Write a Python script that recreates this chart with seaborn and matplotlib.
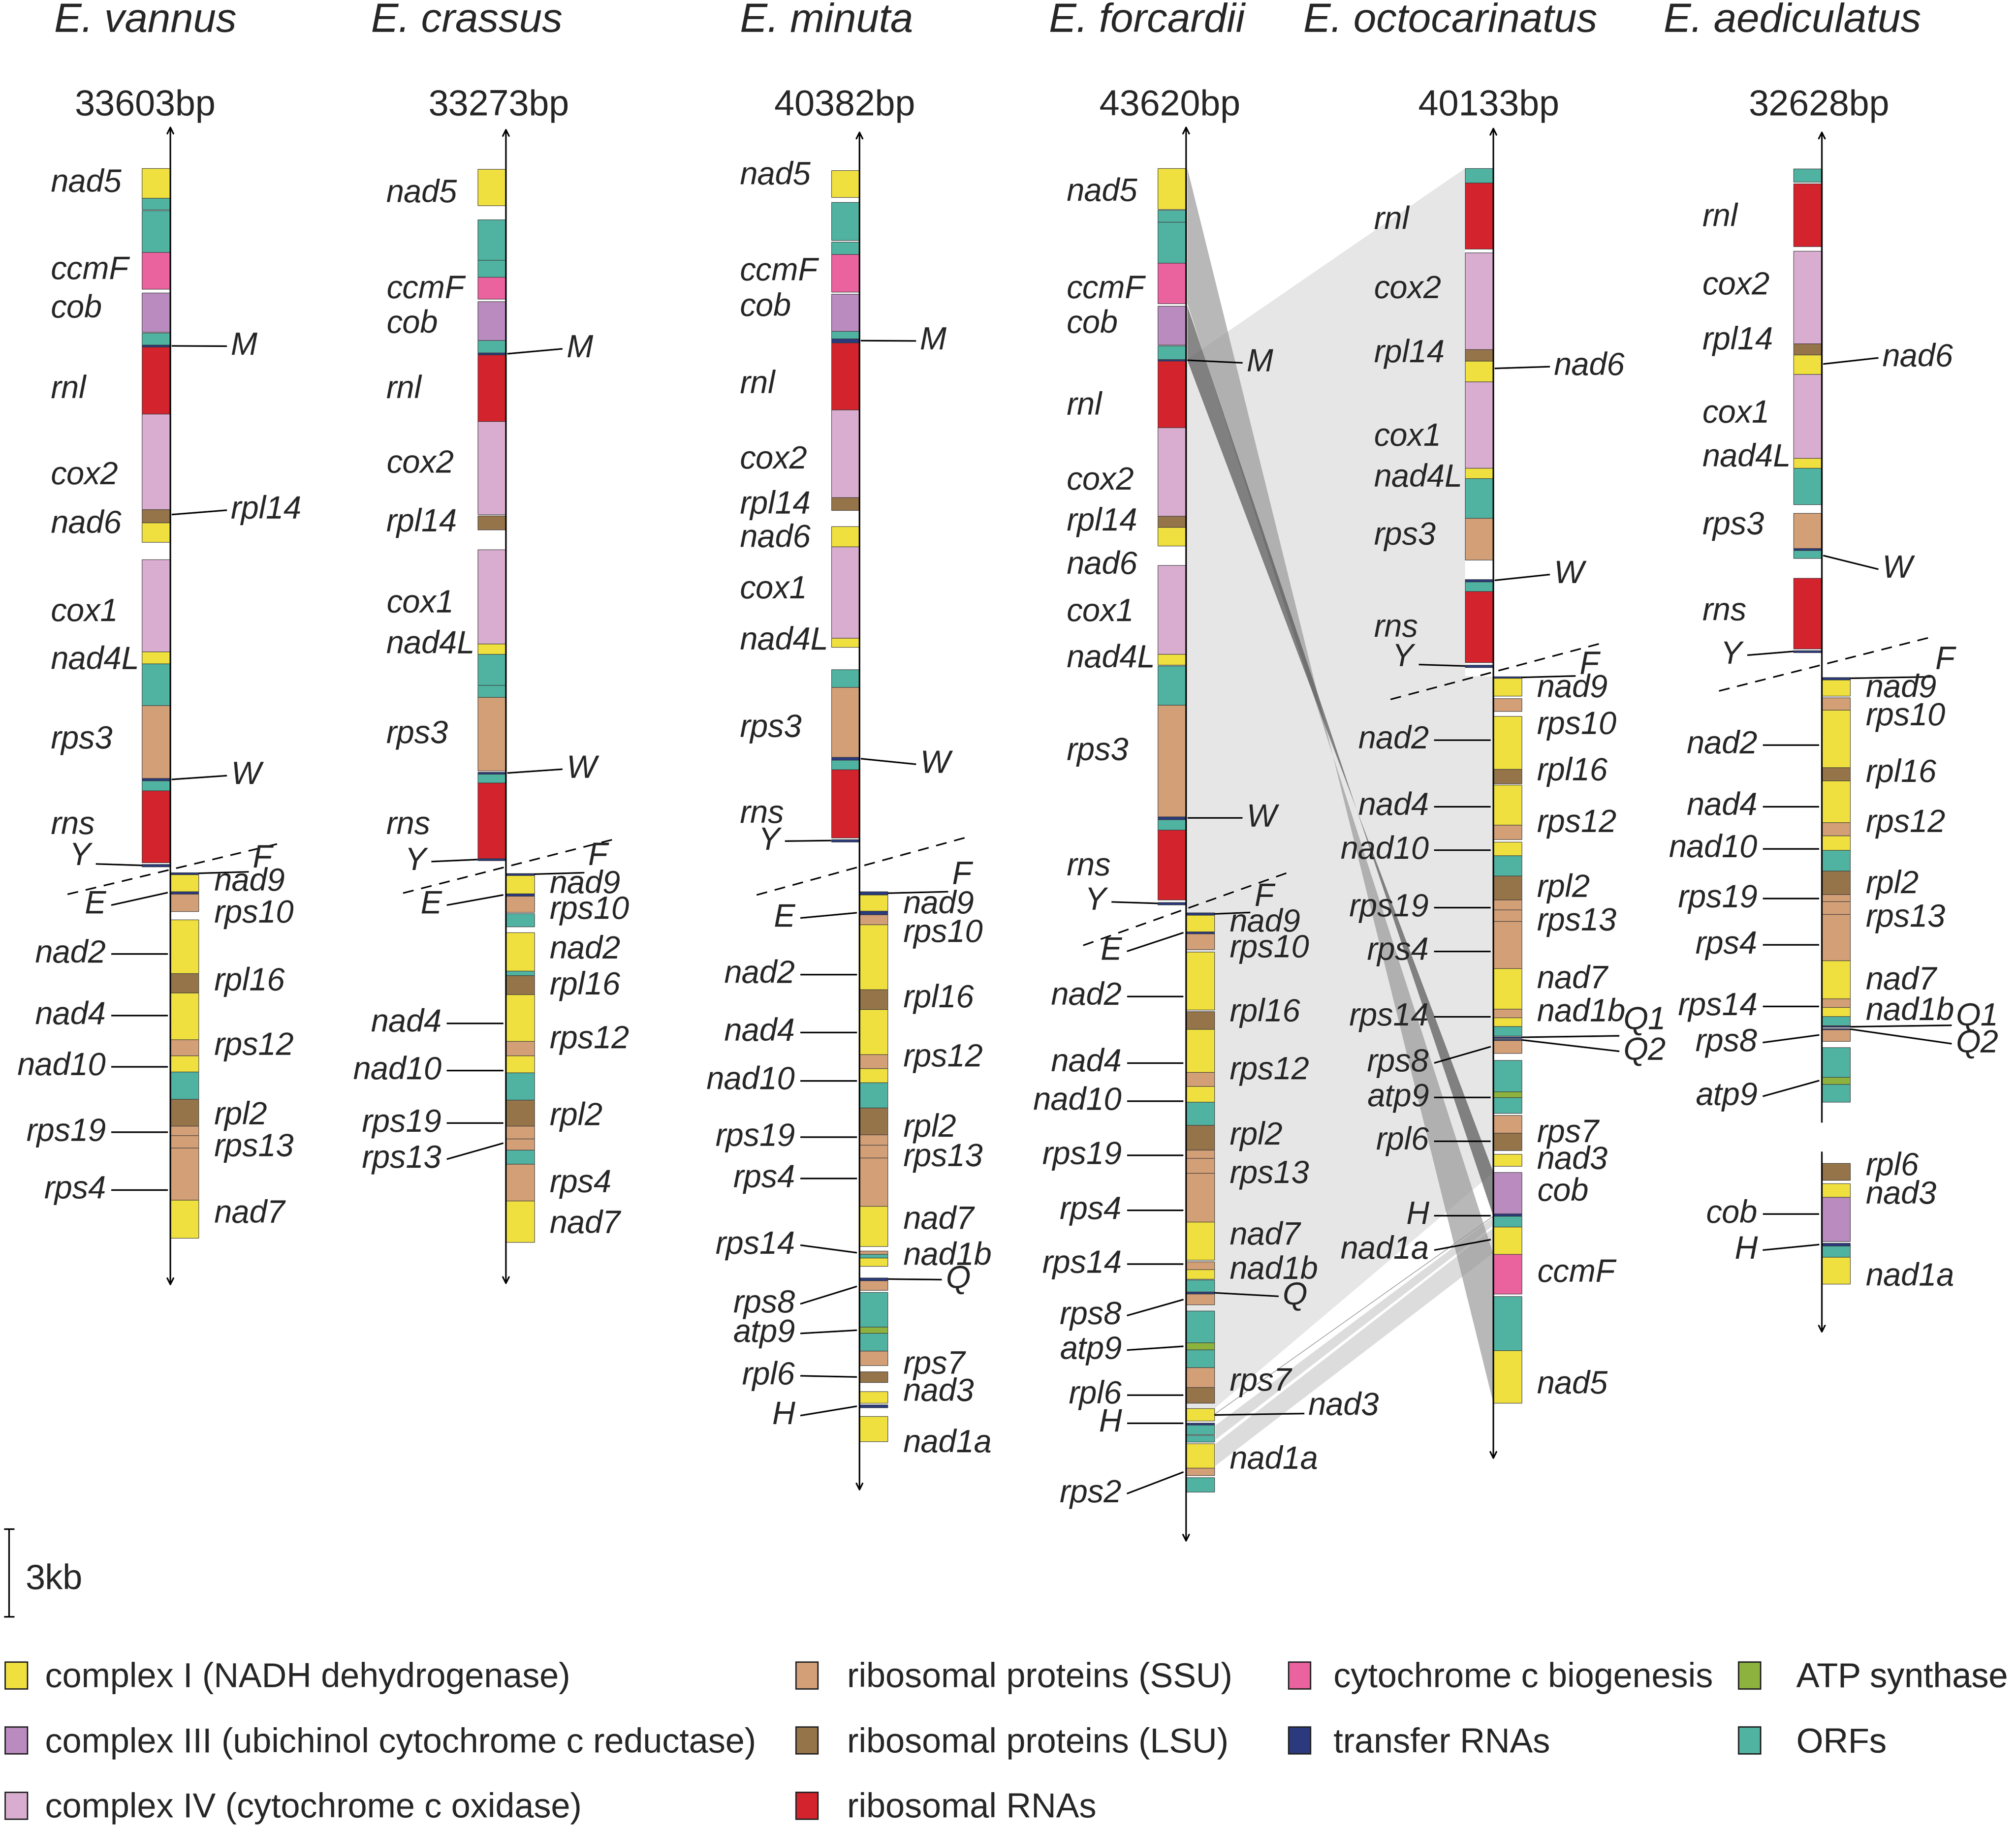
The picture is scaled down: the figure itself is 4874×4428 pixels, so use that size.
import pandas as pd
import seaborn as sns
import matplotlib.pyplot as plt
from matplotlib.patches import Patch

# species and genome sizes
SPECIES = ["E. vannus", "E. crassus", "E. minuta", "E. forcardii", "E. octocarinatus", "E. aediculatus"]
GENOME_SIZES = ["33603bp", "33273bp", "40382bp", "43620bp", "40133bp", "32628bp"]

# functional categories
CATEGORIES = ["I", "III", "IV", "SSU", "LSU", "rRNA", "CCM", "tRNA", "ATP", "ORF"]
CATEGORY_NAMES = [
    "complex I (NADH dehydrogenase)",
    "complex III (ubichinol cytochrome c reductase)",
    "complex IV (cytochrome c oxidase)",
    "ribosomal proteins (SSU)",
    "ribosomal proteins (LSU)",
    "ribosomal RNAs",
    "cytochrome c biogenesis",
    "transfer RNAs",
    "ATP synthase",
    "ORFs",
]
CATEGORY_HEX = ["#EFE03F", "#B98BBE", "#D8ADCF", "#D29F77", "#96744A",
                "#D3232D", "#EA629E", "#2B3A7C", "#8DB33E", "#50B3A2"]
LEGEND_COLUMNS = [["I", "III", "IV"], ["SSU", "LSU", "rRNA"], ["CCM", "tRNA"], ["ATP", "ORF"]]

# gene blocks: (gene, start kb, end kb, category) in map position
VANNUS_UPPER = [
    ("nad5", 0.05, 1.07, "I"), ("orf", 1.07, 1.47, "ORF"), ("orf", 1.50, 2.92, "ORF"),
    ("ccmF", 2.92, 4.18, "CCM"), ("cob", 4.31, 5.66, "III"), ("orf", 5.68, 6.09, "ORF"),
    ("M", 6.09, 6.17, "tRNA"), ("rnl", 6.17, 8.46, "rRNA"), ("cox2", 8.46, 11.72, "IV"),
    ("rpl14", 11.72, 12.17, "LSU"), ("nad6", 12.17, 12.84, "I"), ("cox1", 13.43, 16.59, "IV"),
    ("nad4L", 16.59, 17.00, "I"), ("orf", 17.00, 18.43, "ORF"), ("rps3", 18.43, 20.92, "SSU"),
    ("W", 20.92, 21.01, "tRNA"), ("orf", 21.01, 21.34, "ORF"), ("rns", 21.34, 23.81, "rRNA"),
    ("Y", 23.86, 23.95, "tRNA"),
]
VANNUS_LOWER = [
    ("F", 24.14, 24.21, "tRNA"), ("nad9", 24.21, 24.79, "I"), ("E", 24.79, 24.88, "tRNA"),
    ("rps10", 24.88, 25.47, "SSU"), ("nad2", 25.75, 27.60, "I"), ("rpl16", 27.60, 28.26, "LSU"),
    ("nad4", 28.26, 29.86, "I"), ("rps12", 29.86, 30.41, "SSU"), ("nad10", 30.41, 30.96, "I"),
    ("orf", 30.96, 31.90, "ORF"), ("rpl2", 31.90, 32.81, "LSU"), ("rps19", 32.81, 33.14, "SSU"),
    ("rps13", 33.14, 33.56, "SSU"), ("rps4", 33.56, 35.35, "SSU"), ("nad7", 35.35, 36.65, "I"),
]
CRASSUS_UPPER = [
    ("nad5", 0.09, 1.33, "I"), ("orf", 1.81, 3.19, "ORF"), ("orf", 3.19, 3.77, "ORF"),
    ("ccmF", 3.77, 4.53, "CCM"), ("cob", 4.61, 5.94, "III"), ("orf", 5.94, 6.37, "ORF"),
    ("M", 6.37, 6.44, "tRNA"), ("rnl", 6.44, 8.71, "rRNA"), ("cox2", 8.71, 11.89, "IV"),
    ("rpl14", 11.94, 12.42, "LSU"), ("cox1", 13.10, 16.32, "IV"), ("nad4L", 16.32, 16.68, "I"),
    ("orf", 16.68, 17.73, "ORF"), ("orf", 17.73, 18.14, "ORF"), ("rps3", 18.14, 20.66, "SSU"),
    ("W", 20.70, 20.77, "tRNA"), ("orf", 20.77, 21.08, "ORF"), ("rns", 21.08, 23.66, "rRNA"),
    ("Y", 23.66, 23.73, "tRNA"),
]
CRASSUS_LOWER = [
    ("F", 24.17, 24.24, "tRNA"), ("nad9", 24.24, 24.87, "I"), ("E", 24.87, 24.95, "tRNA"),
    ("rps10", 24.95, 25.50, "SSU"), ("orf", 25.55, 26.00, "ORF"), ("nad2", 26.20, 27.51, "I"),
    ("orf", 27.51, 27.66, "ORF"), ("rpl16", 27.66, 28.32, "LSU"), ("nad4", 28.32, 29.91, "I"),
    ("rps12", 29.91, 30.41, "SSU"), ("nad10", 30.41, 30.99, "I"), ("orf", 30.99, 31.92, "ORF"),
    ("rpl2", 31.92, 32.81, "LSU"), ("rps19", 32.81, 33.25, "SSU"), ("rps13", 33.25, 33.64, "SSU"),
    ("orf", 33.64, 34.11, "ORF"), ("rps4", 34.11, 35.37, "SSU"), ("nad7", 35.37, 36.79, "I"),
]
MINUTA_UPPER = [
    ("nad5", 0.12, 1.04, "I"), ("orf", 1.22, 2.51, "ORF"), ("orf", 2.57, 3.00, "ORF"),
    ("ccmF", 3.00, 4.29, "CCM"), ("cob", 4.35, 5.63, "III"), ("orf", 5.63, 5.88, "ORF"),
    ("M", 5.88, 6.03, "tRNA"), ("rnl", 6.03, 8.32, "rRNA"), ("cox2", 8.32, 11.32, "IV"),
    ("rpl14", 11.32, 11.75, "LSU"), ("nad6", 12.30, 13.00, "I"), ("cox1", 13.00, 16.13, "IV"),
    ("nad4L", 16.13, 16.43, "I"), ("orf", 17.20, 17.81, "ORF"), ("rps3", 17.81, 20.20, "SSU"),
    ("W", 20.20, 20.29, "tRNA"), ("orf", 20.29, 20.62, "ORF"), ("rns", 20.62, 22.95, "rRNA"),
    ("Y", 23.01, 23.10, "tRNA"),
]
MINUTA_LOWER = [
    ("F", 24.79, 24.91, "tRNA"), ("nad9", 24.91, 25.46, "I"), ("E", 25.46, 25.58, "tRNA"),
    ("rps10", 25.58, 25.92, "SSU"), ("nad2", 25.92, 28.15, "I"), ("rpl16", 28.15, 28.82, "LSU"),
    ("nad4", 28.82, 30.36, "I"), ("rps12", 30.36, 30.85, "SSU"), ("nad10", 30.85, 31.33, "I"),
    ("orf", 31.33, 32.19, "ORF"), ("rpl2", 32.19, 33.11, "LSU"), ("rps19", 33.11, 33.47, "SSU"),
    ("rps13", 33.47, 33.90, "SSU"), ("rps4", 33.90, 35.56, "SSU"), ("nad7", 35.56, 36.93, "I"),
    ("rps14", 37.09, 37.20, "SSU"), ("orf", 37.20, 37.33, "ORF"), ("nad1b", 37.33, 37.61, "I"),
    ("Q", 38.00, 38.10, "tRNA"), ("rps8", 38.10, 38.43, "SSU"), ("orf", 38.50, 39.69, "ORF"),
    ("atp9", 39.69, 39.90, "ATP"), ("orf", 39.90, 40.51, "ORF"), ("rps7", 40.51, 41.00, "SSU"),
    ("rpl6", 41.22, 41.58, "LSU"), ("nad3", 41.89, 42.29, "I"), ("H", 42.35, 42.44, "tRNA"),
    ("nad1a", 42.75, 43.61, "I"),
]
FORCARDII_UPPER = [
    ("nad5", 0.06, 1.45, "I"), ("orf", 1.48, 1.89, "ORF"), ("orf", 1.89, 3.30, "ORF"),
    ("ccmF", 3.30, 4.68, "CCM"), ("cob", 4.76, 6.09, "III"), ("orf", 6.12, 6.59, "ORF"),
    ("M", 6.59, 6.65, "tRNA"), ("rnl", 6.65, 8.93, "rRNA"), ("cox2", 8.93, 11.95, "IV"),
    ("rpl14", 11.95, 12.33, "LSU"), ("nad6", 12.33, 12.97, "I"), ("cox1", 13.64, 16.68, "IV"),
    ("nad4L", 16.68, 17.04, "I"), ("orf", 17.07, 18.42, "ORF"), ("rps3", 18.42, 22.24, "SSU"),
    ("W", 22.24, 22.33, "tRNA"), ("orf", 22.33, 22.68, "ORF"), ("rns", 22.68, 25.07, "rRNA"),
    ("Y", 25.16, 25.25, "tRNA"),
]
FORCARDII_LOWER = [
    ("F", 25.52, 25.60, "tRNA"), ("nad9", 25.60, 26.17, "I"), ("E", 26.17, 26.23, "tRNA"),
    ("rps10", 26.23, 26.77, "SSU"), ("nad2", 26.86, 28.84, "I"), ("rpl16", 28.90, 29.50, "LSU"),
    ("nad4", 29.50, 30.98, "I"), ("rps12", 30.98, 31.46, "SSU"), ("nad10", 31.46, 32.00, "I"),
    ("orf", 32.00, 32.79, "ORF"), ("rpl2", 32.79, 33.64, "LSU"), ("rps19", 33.64, 33.91, "SSU"),
    ("rps13", 33.91, 34.43, "SSU"), ("rps4", 34.43, 36.10, "SSU"), ("nad7", 36.10, 37.39, "I"),
    ("rps14", 37.46, 37.72, "SSU"), ("nad1b", 37.72, 38.04, "I"), ("orf", 38.07, 38.48, "ORF"),
    ("Q", 38.48, 38.56, "tRNA"), ("rps8", 38.56, 38.93, "SSU"), ("orf", 39.13, 40.23, "ORF"),
    ("atp9", 40.23, 40.47, "ATP"), ("orf", 40.47, 41.07, "ORF"), ("rps7", 41.07, 41.75, "SSU"),
    ("rpl6", 41.75, 42.29, "LSU"), ("nad3", 42.48, 42.90, "I"), ("H", 42.97, 43.04, "tRNA"),
    ("orf", 43.04, 43.36, "ORF"), ("orf", 43.39, 43.62, "ORF"), ("nad1a", 43.67, 44.51, "I"),
    ("rps2", 44.51, 44.77, "SSU"), ("orf", 44.83, 45.33, "ORF"),
]
OCTO_UPPER = [
    ("orf", 0.06, 0.55, "ORF"), ("rnl", 0.55, 2.82, "rRNA"), ("cox2", 2.94, 6.25, "IV"),
    ("rpl14", 6.25, 6.64, "LSU"), ("nad6", 6.64, 7.36, "I"), ("cox1", 7.36, 10.31, "IV"),
    ("nad4L", 10.31, 10.66, "I"), ("orf", 10.66, 12.02, "ORF"), ("rps3", 12.02, 13.45, "SSU"),
    ("W", 14.11, 14.20, "tRNA"), ("orf", 14.20, 14.52, "ORF"), ("rns", 14.52, 16.96, "rRNA"),
    ("Y", 17.04, 17.13, "tRNA"),
]
OCTO_LOWER = [
    ("F", 17.44, 17.50, "tRNA"), ("nad9", 17.50, 18.11, "I"), ("rps10", 18.19, 18.62, "SSU"),
    ("nad2", 18.80, 20.61, "I"), ("rpl16", 20.61, 21.10, "LSU"), ("nad4", 21.14, 22.52, "I"),
    ("rps12", 22.52, 23.01, "SSU"), ("nad10", 23.09, 23.57, "I"), ("orf", 23.57, 24.25, "ORF"),
    ("rpl2", 24.25, 25.08, "LSU"), ("rps19", 25.08, 25.41, "SSU"), ("rps13", 25.41, 25.81, "SSU"),
    ("rps4", 25.81, 27.43, "SSU"), ("nad7", 27.43, 28.81, "I"), ("rps14", 28.81, 29.11, "SSU"),
    ("nad1b", 29.11, 29.41, "I"), ("orf", 29.41, 29.73, "ORF"), ("Q1", 29.76, 29.81, "tRNA"),
    ("Q2", 29.85, 29.89, "tRNA"), ("rps8", 29.89, 30.33, "SSU"), ("orf", 30.57, 31.64, "ORF"),
    ("atp9", 31.64, 31.84, "ATP"), ("orf", 31.84, 32.37, "ORF"), ("rps7", 32.44, 33.05, "SSU"),
    ("rpl6", 33.05, 33.65, "LSU"), ("nad3", 33.78, 34.19, "I"), ("cob", 34.40, 35.81, "III"),
    ("H", 35.81, 35.90, "tRNA"), ("orf", 35.90, 36.26, "ORF"), ("nad1a", 36.26, 37.20, "I"),
    ("ccmF", 37.20, 38.56, "CCM"), ("orf", 38.64, 40.50, "ORF"), ("nad5", 40.50, 42.29, "I"),
]
AED_UPPER = [
    ("orf", 0.07, 0.52, "ORF"), ("rnl", 0.58, 2.73, "rRNA"), ("cox2", 2.88, 6.05, "IV"),
    ("rpl14", 6.05, 6.43, "LSU"), ("nad6", 6.43, 7.10, "I"), ("cox1", 7.10, 9.97, "IV"),
    ("nad4L", 9.97, 10.31, "I"), ("orf", 10.31, 11.55, "ORF"), ("rps3", 11.85, 13.05, "SSU"),
    ("W", 13.05, 13.12, "tRNA"), ("orf", 13.12, 13.40, "ORF"), ("rns", 14.07, 16.49, "rRNA"),
    ("Y", 16.55, 16.62, "tRNA"),
]
AED_LOWER = [
    ("F", 17.46, 17.55, "tRNA"), ("nad9", 17.55, 18.10, "I"), ("rps10", 18.16, 18.59, "SSU"),
    ("nad2", 18.59, 20.55, "I"), ("rpl16", 20.55, 21.01, "LSU"), ("nad4", 21.01, 22.43, "I"),
    ("rps12", 22.43, 22.89, "SSU"), ("nad10", 22.89, 23.38, "I"), ("orf", 23.38, 24.08, "ORF"),
    ("rpl2", 24.08, 24.89, "LSU"), ("rps19", 24.89, 25.14, "SSU"), ("rps13", 25.14, 25.57, "SSU"),
    ("rps4", 25.57, 27.16, "SSU"), ("nad7", 27.16, 28.46, "I"), ("rps14", 28.46, 28.76, "SSU"),
    ("nad1b", 28.76, 29.07, "I"), ("orf", 29.07, 29.38, "ORF"), ("Q1", 29.39, 29.44, "tRNA"),
    ("Q2", 29.47, 29.52, "tRNA"), ("rps8", 29.52, 29.91, "SSU"), ("orf", 30.13, 31.15, "ORF"),
    ("atp9", 31.15, 31.38, "ATP"), ("orf", 31.38, 31.99, "ORF"), ("rpl6", 34.09, 34.67, "LSU"),
    ("nad3", 34.78, 35.24, "I"), ("cob", 35.24, 36.76, "III"), ("H", 36.81, 36.92, "tRNA"),
    ("orf", 36.92, 37.30, "ORF"), ("nad1a", 37.30, 38.22, "I"),
]

# extent of each map axis (kb), aediculatus axis is broken
AXIS_TOP = [-1.40, -1.32, -1.23, -1.40, -1.36, -1.23]
AXIS_BOTTOM = [38.29, 38.25, 45.31, 47.06, 44.23, 39.91]
AED_BREAK = (32.68, 33.71)

# gene labels: (text, kb, kind[, target kb[, offset]])
VANNUS_LABELS = [
    ("nad5", 0.57, "L"), ("ccmF", 3.55, "L"), ("cob", 4.87, "L"), ("rnl", 7.63, "L"),
    ("cox2", 10.57, "L"), ("nad6", 12.24, "L"), ("cox1", 15.26, "L"), ("nad4L", 16.89, "L"),
    ("rps3", 19.61, "L"), ("rns", 22.54, "L"), ("Y", 23.60, "Y", 23.90),
    ("M", 6.14, "Rd", 6.13), ("rpl14", 11.75, "Rd", 11.90), ("W", 20.83, "Rd", 20.96),
    ("F", 23.68, "T", 24.17, 64),
    ("nad9", 24.47, "R"), ("rps10", 25.57, "R"), ("rpl16", 27.89, "R"), ("rps12", 30.09, "R"),
    ("rpl2", 32.46, "R"), ("rps13", 33.55, "R"), ("nad7", 35.83, "R"),
    ("E", 25.26, "Ld", 24.83), ("nad2", 26.93, "Ld"), ("nad4", 29.04, "Ld"),
    ("nad10", 30.79, "Ld"), ("rps19", 33.03, "Ld"), ("rps4", 35.00, "Ld"),
]
CRASSUS_LABELS = [
    ("nad5", 0.92, "L"), ("ccmF", 4.21, "L"), ("cob", 5.39, "L"), ("rnl", 7.63, "L"),
    ("cox2", 10.18, "L"), ("rpl14", 12.19, "L"), ("cox1", 14.96, "L"), ("nad4L", 16.36, "L"),
    ("rps3", 19.43, "L"), ("rns", 22.54, "L"), ("Y", 23.77, "Y", 23.70),
    ("M", 6.23, "Rd", 6.40), ("W", 20.61, "Rd", 20.74), ("F", 23.60, "T", 24.20, 64),
    ("nad9", 24.56, "R"), ("rps10", 25.44, "R"), ("nad2", 26.80, "R"), ("rpl16", 28.03, "R"),
    ("rps12", 29.87, "R"), ("rpl2", 32.50, "R"), ("rps4", 34.78, "R"), ("nad7", 36.18, "R"),
    ("E", 25.26, "Ld", 24.91), ("nad4", 29.30, "Ld"), ("nad10", 30.92, "Ld"),
    ("rps19", 32.72, "Ld"), ("rps13", 33.95, "Ld", 33.40),
]
MINUTA_LABELS = [
    ("nad5", 0.31, "L"), ("ccmF", 3.60, "L"), ("cob", 4.82, "L"), ("rnl", 7.46, "L"),
    ("cox2", 10.04, "L"), ("rpl14", 11.58, "L"), ("nad6", 12.72, "L"), ("cox1", 14.47, "L"),
    ("nad4L", 16.23, "L"), ("rps3", 19.21, "L"), ("rns", 22.15, "L"), ("Y", 23.07, "Y", 23.05),
    ("M", 5.96, "Rd", 5.95), ("W", 20.44, "Rd", 20.25), ("F", 24.25, "T", 24.85, 72),
    ("nad9", 25.26, "R"), ("rps10", 26.23, "R"), ("rpl16", 28.46, "R"), ("rps12", 30.48, "R"),
    ("rpl2", 32.89, "R"), ("rps13", 33.90, "R"), ("nad7", 36.05, "R"), ("nad1b", 37.28, "R"),
    ("rps7", 41.00, "R"), ("nad3", 41.93, "R"), ("nad1a", 43.68, "R"),
    ("Q", 38.07, "T", 38.05, 67),
    ("E", 25.70, "Ld", 25.52), ("nad2", 27.63, "Ld"), ("nad4", 29.61, "Ld"),
    ("nad10", 31.27, "Ld"), ("rps19", 33.20, "Ld"), ("rps4", 34.61, "Ld"),
    ("rps14", 36.89, "Ld", 37.15), ("rps8", 38.90, "Ld", 38.30), ("atp9", 39.91, "Ld", 39.80),
    ("rpl6", 41.36, "Ld", 41.40), ("H", 42.72, "Ld", 42.40),
]
FORCARDII_LABELS = [
    ("nad5", 0.88, "L"), ("ccmF", 4.21, "L"), ("cob", 5.39, "L"), ("rnl", 8.20, "L"),
    ("cox2", 10.75, "L"), ("rpl14", 12.15, "L"), ("nad6", 13.64, "L"), ("cox1", 15.26, "L"),
    ("nad4L", 16.84, "L"), ("rps3", 20.00, "L"), ("rns", 23.95, "L"), ("Y", 25.13, "Y", 25.20),
    ("M", 6.71, "Rd", 6.62), ("W", 22.28, "Rd", 22.28), ("F", 25.00, "T", 25.56, 53),
    ("nad9", 25.88, "R"), ("rps10", 26.75, "R"), ("rpl16", 28.95, "R"), ("rps12", 30.92, "R"),
    ("rpl2", 33.16, "R"), ("rps13", 34.47, "R"), ("nad7", 36.58, "R"), ("nad1b", 37.76, "R"),
    ("rps7", 41.58, "R"), ("nad1a", 44.25, "R"),
    ("Q", 38.64, "T", 38.52, 75), ("nad3", 42.41, "T", 42.70, 95),
    ("E", 26.84, "Ld", 26.20), ("nad2", 28.38, "Ld"), ("nad4", 30.66, "Ld"),
    ("nad10", 31.97, "Ld"), ("rps19", 33.82, "Ld"), ("rps4", 35.70, "Ld"),
    ("rps14", 37.54, "Ld"), ("rps8", 39.30, "Ld", 38.75), ("atp9", 40.48, "Ld", 40.35),
    ("rpl6", 42.02, "Ld"), ("H", 42.98, "Ld"), ("rps2", 45.39, "Ld", 44.65),
]
OCTO_LABELS = [
    ("rnl", 1.84, "L"), ("cox2", 4.21, "L"), ("rpl14", 6.40, "L"), ("cox1", 9.25, "L"),
    ("nad4L", 10.66, "L"), ("rps3", 12.63, "L"), ("rns", 15.79, "L"), ("Y", 16.80, "Y", 17.08),
    ("nad6", 6.84, "Rd", 6.90), ("W", 13.95, "Rd", 14.15), ("F", 17.06, "T", 17.47, 67),
    ("nad9", 17.85, "R"), ("rps10", 19.12, "R"), ("rpl16", 20.70, "R"), ("rps12", 22.46, "R"),
    ("rpl2", 24.69, "R"), ("rps13", 25.83, "R"), ("nad7", 27.81, "R"), ("nad1b", 28.95, "R"),
    ("rps7", 33.07, "R"), ("nad3", 33.99, "R"), ("cob", 35.09, "R"), ("ccmF", 37.85, "R"),
    ("nad5", 41.67, "R"),
    ("Q1", 29.21, "T", 29.78, 101), ("Q2", 30.26, "T", 29.87, 101),
    ("nad2", 19.61, "Ld"), ("nad4", 21.89, "Ld"), ("nad10", 23.38, "Ld"), ("rps19", 25.35, "Ld"),
    ("rps4", 26.84, "Ld"), ("rps14", 29.08, "Ld"), ("rps8", 30.66, "Ld", 30.10),
    ("atp9", 31.84, "Ld"), ("rpl6", 33.33, "Ld"), ("H", 35.88, "Ld"), ("nad1a", 37.06, "Ld", 36.70),
]
AED_LABELS = [
    ("rnl", 1.75, "L"), ("cox2", 4.08, "L"), ("rpl14", 5.96, "L"), ("cox1", 8.46, "L"),
    ("nad4L", 9.96, "L"), ("rps3", 12.28, "L"), ("rns", 15.22, "L"), ("Y", 16.71, "Y", 16.58),
    ("nad6", 6.54, "Rd", 6.75), ("W", 13.77, "Rd", 13.30), ("F", 16.89, "T", 17.50, 88),
    ("nad9", 17.85, "R"), ("rps10", 18.82, "R"), ("rpl16", 20.75, "R"), ("rps12", 22.46, "R"),
    ("rpl2", 24.56, "R"), ("rps13", 25.70, "R"), ("nad7", 27.85, "R"), ("nad1b", 28.90, "R"),
    ("rpl6", 34.21, "R"), ("nad3", 35.18, "R"), ("nad1a", 37.98, "R"),
    ("Q1", 29.08, "T", 29.42, 104), ("Q2", 30.00, "T", 29.50, 104),
    ("nad2", 19.78, "Ld"), ("nad4", 21.89, "Ld"), ("nad10", 23.33, "Ld"), ("rps19", 25.04, "Ld"),
    ("rps4", 26.62, "Ld"), ("rps14", 28.73, "Ld"), ("rps8", 29.96, "Ld", 29.70),
    ("atp9", 31.80, "Ld", 31.26), ("cob", 35.83, "Ld"), ("H", 37.06, "Ld", 36.87),
]

# syntenic blocks between E. forcardii and E. octocarinatus (kb ranges)
LINK_FORCARDII = [(6.62, 42.48), (0.06, 4.68), (4.76, 6.62), (43.04, 43.62), (43.67, 44.51)]
LINK_OCTO = [(0.06, 34.40), (42.29, 37.20), (35.90, 34.40), (35.90, 36.26), (36.26, 37.20)]
LINK_SHADE = ["light", "mid", "dark", "strip", "strip"]

SCALE_KB = 3.0

UPPERS = [VANNUS_UPPER, CRASSUS_UPPER, MINUTA_UPPER, FORCARDII_UPPER, OCTO_UPPER, AED_UPPER]
LOWERS = [VANNUS_LOWER, CRASSUS_LOWER, MINUTA_LOWER, FORCARDII_LOWER, OCTO_LOWER, AED_LOWER]
LABELS = [VANNUS_LABELS, CRASSUS_LABELS, MINUTA_LABELS, FORCARDII_LABELS, OCTO_LABELS, AED_LABELS]

# layout (canvas units: 1568 wide, 1428 tall; y axis in kb)
LINE_X = [132.5, 393.5, 668.5, 922.5, 1161.5, 1417.0]
TITLE_X = [113, 363, 643, 892, 1128, 1394]
SIZE_X = [113, 388, 657, 910, 1158, 1415]
DASH_DROP = [1.72, 1.83, 1.97, 2.55, 1.91, 1.82]
LEGEND_X = [4, 619, 1002, 1352]
LEGEND_PAD = [0.52, 0.85, 0.67, 1.05]
W_PX, H_PX, TOP_PX, KB_PX = 1568, 1428, 130, 22.8
BLOCK_W = 22
GENE_FS, TITLE_FS, SIZE_FS, LEG_FS = 18.5, 23.8, 21, 20.0

sns.set_theme(style="white")
plt.rcParams["font.family"] = ["Liberation Sans", "DejaVu Sans"]
palette = dict(zip(CATEGORIES, sns.color_palette(CATEGORY_HEX)))
names = dict(zip(CATEGORIES, CATEGORY_NAMES))

fig = plt.figure(figsize=(4874 / 300, 4428 / 300), dpi=300)
ax = fig.add_axes([0, 0, 1, 1])
ax.set_xlim(0, W_PX)
ax.set_ylim((H_PX - TOP_PX) / KB_PX, -TOP_PX / KB_PX)
ax.axis("off")


def draw_blocks(x0, segs, side):
    df = pd.DataFrame(segs, columns=["gene", "start", "end", "cat"])
    ax.bar(x0 + side * BLOCK_W / 2, df["end"] - df["start"], bottom=df["start"],
           width=BLOCK_W, color=[palette[c] for c in df["cat"]],
           edgecolor="#3a3a3a", linewidth=0.3, zorder=3)


def leader(xs, ys):
    ax.plot(xs, ys, color="black", lw=0.9, zorder=4, solid_capstyle="butt")


def draw_labels(x0, labels):
    for lab in labels:
        text, y, kind = lab[0], lab[1], lab[2]
        target = lab[3] if len(lab) > 3 else y
        kw = dict(fontsize=GENE_FS, style="italic", va="center", zorder=5)
        if kind == "L":
            ax.text(x0 - 93, y, text, ha="left", **kw)
        elif kind == "R":
            ax.text(x0 + 34, y, text, ha="left", **kw)
        elif kind == "Rd":
            leader([x0 + 1, x0 + 44], [target, y])
            ax.text(x0 + 47, y, text, ha="left", **kw)
        elif kind == "Ld":
            leader([x0 - 46, x0 - 2], [y, target])
            ax.text(x0 - 50, y, text, ha="right", **kw)
        elif kind == "Y":
            leader([x0 - 58, x0 - BLOCK_W], [max(y, target - 0.05), target])
            ax.text(x0 - 62, y, text, ha="right", **kw)
        elif kind == "T":
            dx = lab[4]
            leader([x0 + BLOCK_W, x0 + dx - 3], [target, max(y, target - 0.05)])
            ax.text(x0 + dx, y, text, ha="left", **kw)


# synteny links between E. forcardii and E. octocarinatus
fx, ox = LINE_X[3], LINE_X[4]
o_break_top, o_break_bot = OCTO_UPPER[-1][2], OCTO_LOWER[0][1]
shade = {"light": ("#e6e6e6", 1.0), "mid": ("#9a9a9a", 0.7),
         "dark": ("#555555", 0.7), "strip": ("#dcdcdc", 1.0)}
for (f0, f1), (o0, o1), kind in zip(LINK_FORCARDII, LINK_OCTO, LINK_SHADE):
    col, alpha = shade[kind]
    if kind == "light":
        xs = [fx, ox - BLOCK_W, ox - BLOCK_W, ox, ox, fx + BLOCK_W, fx]
        ys = [f0, o0, o_break_top + 0.3, o_break_bot, o1, f1, f1]
        ax.fill(xs, ys, color=col, lw=0, zorder=0.5)
    elif kind == "strip":
        ax.fill([fx + BLOCK_W, ox, ox, fx + BLOCK_W], [f0, o0, o1, f1],
                facecolor=col, edgecolor="white", lw=1.2, zorder=0.6)
    else:
        ax.fill([fx + 1, ox, ox, fx + 1], [f0, o0, o1, f1],
                color=col, alpha=alpha, lw=0, zorder=0.7)
ax.plot([fx + BLOCK_W, ox], [FORCARDII_LOWER[25][1] + 0.2, OCTO_LOWER[27][2]],
        color="#9a9a9a", lw=0.4, zorder=0.8)

for i, x0 in enumerate(LINE_X):
    # map axis with arrows
    arrow = dict(color="black", lw=0.9, shrinkA=0, shrinkB=0, mutation_scale=9)
    if i == 5:
        ax.annotate("", xy=(x0, AXIS_TOP[i]), xytext=(x0, AED_BREAK[0]),
                    arrowprops=dict(arrowstyle="->", **arrow), zorder=4)
        ax.annotate("", xy=(x0, AXIS_BOTTOM[i]), xytext=(x0, AED_BREAK[1]),
                    arrowprops=dict(arrowstyle="->", **arrow), zorder=4)
    else:
        ax.annotate("", xy=(x0, AXIS_TOP[i]), xytext=(x0, AXIS_BOTTOM[i]),
                    arrowprops=dict(arrowstyle="<->", **arrow), zorder=4)

    draw_blocks(x0, UPPERS[i], -1)
    draw_blocks(x0, LOWERS[i], 1)

    # dashed separator between the two halves
    mid = (UPPERS[i][-1][2] + LOWERS[i][0][1]) / 2
    d = DASH_DROP[i]
    ax.plot([x0 - 80, x0 + 83], [mid + d * 80 / 163, mid - d * 83 / 163],
            color="black", lw=0.9, ls=(0, (7, 5)), zorder=4)

    draw_labels(x0, LABELS[i])

    ax.text(TITLE_X[i], -4.98, SPECIES[i], fontsize=TITLE_FS, style="italic",
            ha="center", va="center")
    ax.text(SIZE_X[i], -2.08, GENOME_SIZES[i], fontsize=SIZE_FS,
            ha="center", va="center")

# scale bar
scale_top = 46.6
ax.errorbar([7], [scale_top + SCALE_KB / 2], yerr=SCALE_KB / 2, fmt="none",
            ecolor="black", elinewidth=0.9, capsize=3, capthick=0.9)
ax.text(20, scale_top + SCALE_KB / 2 + 0.25, f"{SCALE_KB:.0f}kb", fontsize=LEG_FS + 0.6,
        ha="left", va="center")

# legend, one column block at a time
for col_x, pad, cats in zip(LEGEND_X, LEGEND_PAD, LEGEND_COLUMNS):
    handles = [Patch(facecolor=palette[c], edgecolor="#222222", linewidth=0.8, label=names[c])
               for c in cats]
    leg = ax.legend(handles=handles, loc="upper left",
                    bbox_to_anchor=(col_x / W_PX, 1 - 1296 / H_PX),
                    frameon=False, fontsize=LEG_FS, handlelength=0.64, handleheight=0.82,
                    handletextpad=pad, labelspacing=0.95, borderpad=0, borderaxespad=0)
    ax.add_artist(leg)

fig.savefig("out.png", dpi=300)
